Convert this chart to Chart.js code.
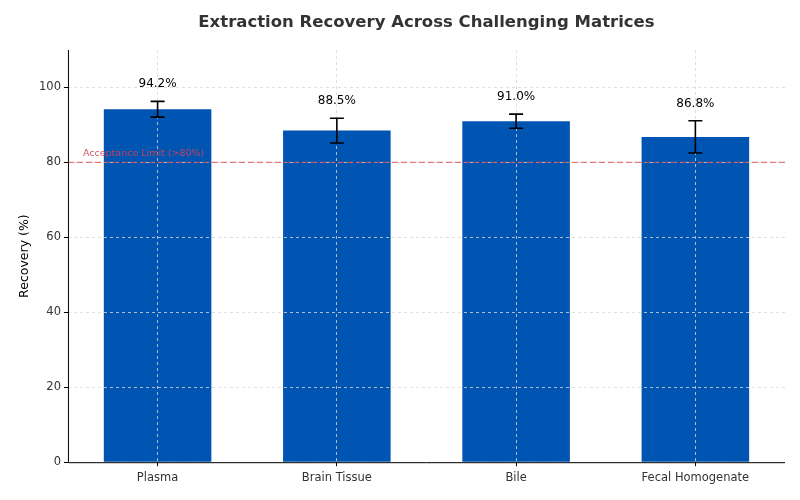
<!DOCTYPE html>
<html>
<head>
<meta charset="utf-8">
<script src="https://cdn.jsdelivr.net/npm/chart.js@4"></script>
<style>
  html, body { margin: 0; padding: 0; background: #fff; }
  #wrap { width: 800px; height: 500px; }
</style>
</head>
<body>
<div id="wrap"><canvas id="chart" width="800" height="500"></canvas></div>
<script>
const matrices = ["Plasma", "Brain Tissue", "Bile", "Fecal Homogenate"];
const recovery = [94.2, 88.5, 91.0, 86.8];
const recoveryErr = [2.1, 3.3, 1.9, 4.3];
const acceptanceLimit = 80;
const yTicks = [0, 20, 40, 60, 80, 100];

const FONT = "'DejaVu Sans', sans-serif";
const TITLE = "Extraction Recovery Across Challenging Matrices";

// title, limit line, error bars, value labels and spines on top of everything
const overlayPlugin = {
    id: "overlay",
    afterDraw(chart) {
        const ctx = chart.ctx;
        const a = chart.chartArea;
        const y = chart.scales.y;
        const meta = chart.getDatasetMeta(0);
        ctx.save();

        // title, centred on the plot area
        ctx.fillStyle = "#333";
        ctx.font = "bold 16.5px " + FONT;
        ctx.textAlign = "center";
        ctx.textBaseline = "middle";
        ctx.fillText(TITLE, (a.left + a.right) / 2, 23);

        // acceptance limit
        const py = y.getPixelForValue(acceptanceLimit);
        ctx.strokeStyle = "rgba(220, 80, 80, 0.75)";
        ctx.lineWidth = 1.2;
        ctx.setLineDash([6, 3]);
        ctx.beginPath();
        ctx.moveTo(a.left, py);
        ctx.lineTo(a.right, py);
        ctx.stroke();
        ctx.setLineDash([]);
        ctx.fillStyle = "rgba(214, 64, 84, 0.9)";
        ctx.font = "9.5px " + FONT;
        ctx.textAlign = "left";
        ctx.textBaseline = "bottom";
        ctx.fillText("Acceptance Limit (>80%)", a.left + 15, py - 4);

        meta.data.forEach((bar, i) => {
            const top = y.getPixelForValue(recovery[i] + recoveryErr[i]);
            const bottom = y.getPixelForValue(recovery[i] - recoveryErr[i]);
            ctx.strokeStyle = "#000";
            ctx.lineWidth = 1.6;
            ctx.beginPath();
            ctx.moveTo(bar.x, top);
            ctx.lineTo(bar.x, bottom);
            ctx.moveTo(bar.x - 7, top);
            ctx.lineTo(bar.x + 7, top);
            ctx.moveTo(bar.x - 7, bottom);
            ctx.lineTo(bar.x + 7, bottom);
            ctx.stroke();

            ctx.fillStyle = "#000";
            ctx.font = "12px " + FONT;
            ctx.textAlign = "center";
            ctx.textBaseline = "bottom";
            ctx.fillText(recovery[i].toFixed(1) + "%", bar.x, top - 11);
        });

        ctx.strokeStyle = "#000";
        ctx.lineWidth = 1;
        ctx.beginPath();
        ctx.moveTo(a.left + 0.5, a.top);
        ctx.lineTo(a.left + 0.5, a.bottom + 0.5);
        ctx.lineTo(a.right, a.bottom + 0.5);
        ctx.stroke();
        ctx.restore();
    },
};

new Chart(document.getElementById("chart"), {
    type: "bar",
    data: {
        labels: matrices,
        datasets: [{
            data: recovery,
            backgroundColor: "#0055B3",
            borderWidth: 0,
            barPercentage: 0.6,
            categoryPercentage: 1.0,
        }],
    },
    options: {
        responsive: false,
        animation: false,
        layout: { padding: { left: 13, right: 15, top: 50, bottom: 10 } },
        plugins: {
            legend: { display: false },
            tooltip: { enabled: false },
            title: { display: false },
        },
        scales: {
            x: {
                grid: {
                    z: 1,
                    color: "rgba(215,215,215,0.8)",
                    offset: false,
                    tickLength: 4,
                    tickColor: "#000",
                    tickBorderDash: [],
                },
                border: { display: false, dash: [3, 3] },
                ticks: { color: "#333", font: { family: FONT, size: 11.5 }, padding: 5 },
            },
            y: {
                min: 0,
                max: 110,
                afterBuildTicks(axis) {
                    axis.ticks = yTicks.map((v) => ({ value: v }));
                },
                grid: {
                    z: 1,
                    color: "rgba(215,215,215,0.8)",
                    tickLength: 4,
                    tickColor: "#000",
                    tickBorderDash: [],
                },
                border: { display: false, dash: [3, 3] },
                ticks: { color: "#333", font: { family: FONT, size: 11.5 }, padding: 3 },
                title: {
                    display: true,
                    text: "Recovery (%)",
                    color: "#000",
                    font: { family: FONT, size: 12.5 },
                    padding: { bottom: 4 },
                },
            },
        },
    },
    plugins: [overlayPlugin],
});
</script>
</body>
</html>
